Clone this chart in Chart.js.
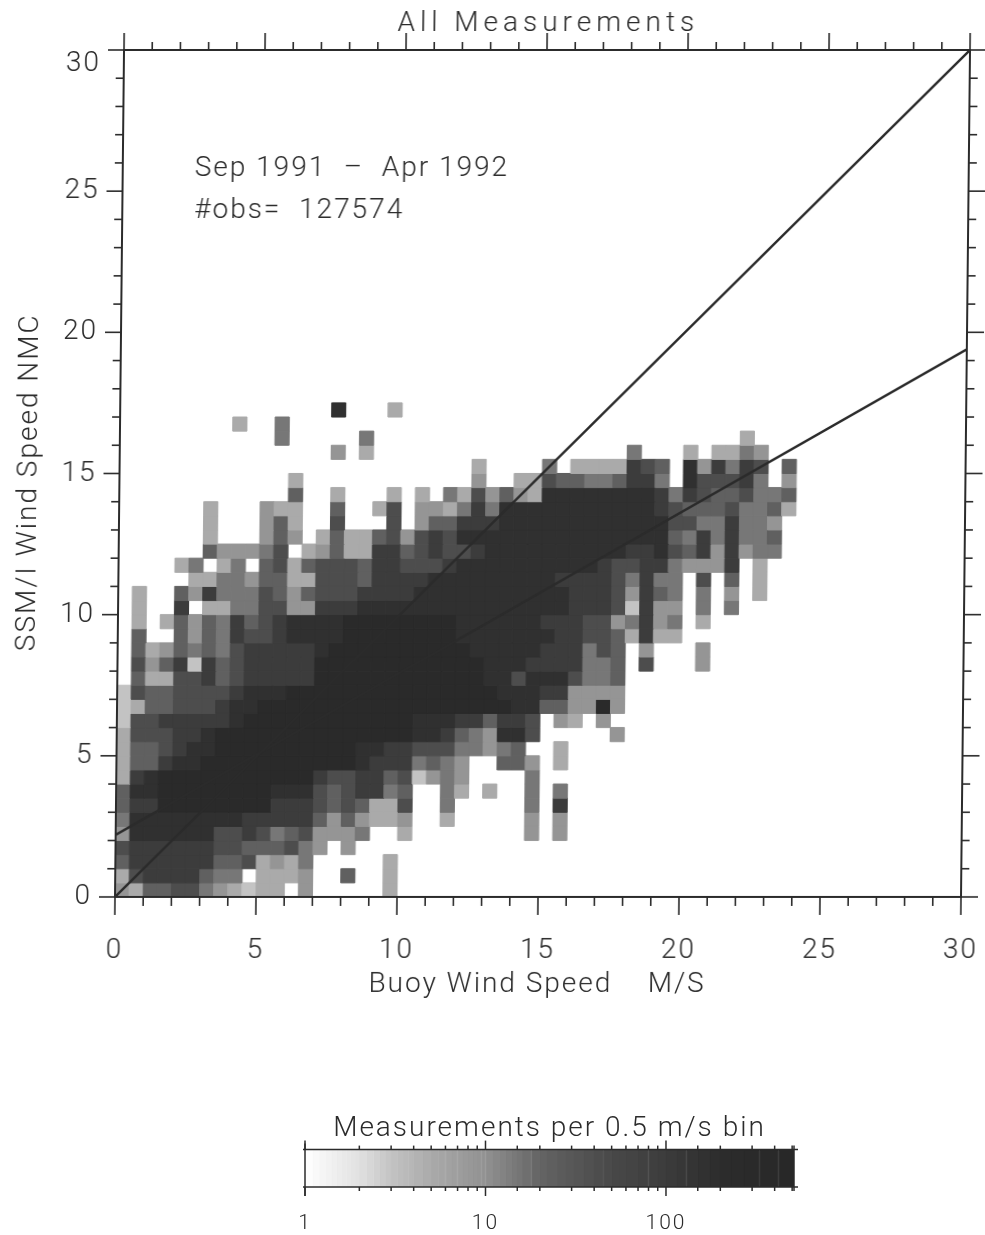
<!DOCTYPE html>
<html>
<head>
<meta charset="utf-8">
<title>All Measurements</title>
<script src="https://cdn.jsdelivr.net/npm/chart.js@4/dist/chart.umd.js"></script>
<style>
  html, body { margin: 0; background: #fff; }
  #page { position: relative; width: 985px; height: 1235px; overflow: hidden; }
  canvas { position: absolute; left: 0; }
  /* the scanned page is sheared: top of the frame sits 9px right of the bottom */
  #heatChart { top: 0; transform: skewX(-0.61deg); transform-origin: 0 897px; }
  #barChart { top: 1105px; }
</style>
</head>
<body>
<div id="page">
  <canvas id="heatChart" width="985" height="1010"></canvas>
  <canvas id="barChart" width="985" height="130"></canvas>
</div>
<script>
// Count class of every 0.5 m/s bin, one list per SSM/I bin (bottom row first)
const binRows = [
  [3,2,5,5,6,6,4,3,2,1,2,2,0,3,0,0,0,0,0,2],
  [2,6,7,7,7,7,5,4,4,0,2,2,2,3,0,0,5,0,0,2],
  [5,7,7,7,7,7,7,5,5,6,2,3,2,4,0,0,0,0,0,2],
  [6,7,7,7,7,7,7,6,6,5,5,5,6,4,3,0,3],
  [3,8,8,8,8,8,8,6,6,7,6,4,5,6,3,3,3,4,0,0,2,0,0,0,0,0,0,0,0,3,0,3],
  [4,8,8,8,8,8,8,8,8,7,7,7,7,7,5,3,5,3,2,2,3,0,0,2,0,0,0,0,0,3,0,3],
  [5,7,7,9,9,9,9,9,9,9,9,7,7,7,6,5,6,5,2,2,6,0,0,4,0,0,0,0,0,4,0,7],
  [5,8,8,9,9,9,9,9,9,9,9,8,8,8,6,5,6,7,7,4,5,0,0,4,2,0,2,0,0,4,0,4],
  [2,7,8,9,9,9,9,9,9,9,9,9,9,9,7,6,6,7,7,5,6,1,3,4,3,0,0,0,0,4],
  [2,5,5,7,8,8,9,9,9,9,9,9,9,9,9,9,9,8,7,7,7,4,5,4,3,0,0,5,5,3,0,2],
  [2,5,5,6,7,8,8,9,9,9,9,9,9,9,9,9,9,8,8,7,7,6,6,6,4,4,3,4,5,0,0,2],
  [2,6,6,6,7,7,8,9,9,9,9,9,9,9,9,9,9,9,9,9,9,8,8,7,5,4,3,8,8,6,0,0,0,0,0,3],
  [1,6,6,7,7,7,7,7,8,9,9,9,9,9,9,9,9,9,9,9,9,8,8,8,7,7,5,7,7,6,0,3,2,0,3],
  [1,2,5,5,6,6,6,7,8,8,9,9,9,9,9,9,9,9,9,9,9,9,9,9,9,9,9,9,8,8,5,5,3,3,9,3],
  [1,6,5,5,6,6,6,6,7,8,8,8,9,9,9,9,9,9,9,9,9,9,9,9,9,9,9,8,8,8,7,7,3,3,3,3],
  [0,5,2,2,6,6,7,5,6,7,7,7,7,7,9,9,9,9,9,9,9,9,9,9,9,9,8,8,6,8,8,8,6,4,4,5],
  [0,6,3,5,7,1,7,5,6,7,7,7,7,7,9,9,9,9,9,9,9,9,9,9,9,9,8,8,8,7,7,7,7,4,4,5,0,6,0,0,0,3],
  [0,5,2,3,5,4,5,4,6,7,7,7,7,7,8,9,9,9,9,9,9,9,9,9,9,8,8,8,8,8,7,7,7,4,6,5,0,3,0,0,0,3],
  [0,5,0,0,5,3,5,4,7,6,6,7,8,8,8,8,9,9,9,9,9,9,9,9,8,8,8,8,8,8,8,7,7,6,6,5,2,7,2,2],
  [0,2,0,2,5,3,5,4,7,5,6,7,8,8,8,8,9,9,9,9,9,9,9,9,8,8,8,8,8,8,7,7,7,6,6,3,4,7,3,4,0,2],
  [0,2,0,0,7,0,2,2,4,4,6,6,3,3,7,7,7,8,8,8,8,8,8,8,8,8,8,8,8,8,8,8,7,7,7,6,1,7,3,3,0,4,0,4],
  [0,2,0,0,5,3,7,4,4,4,6,5,3,5,6,6,6,7,7,7,7,8,8,8,8,8,8,8,8,8,8,8,7,7,7,6,3,7,5,4,0,4,0,3,0,2],
  [0,0,0,0,0,2,2,4,4,3,5,5,2,2,6,6,6,5,7,7,7,7,8,8,8,8,8,8,8,8,8,7,7,7,7,6,4,7,4,4,0,6,0,5,0,2],
  [0,0,0,0,2,4,0,2,4,0,5,6,2,5,6,6,6,5,7,7,6,6,6,7,8,8,8,8,8,8,8,8,8,8,7,6,6,7,7,4,3,3,3,7,0,2],
  [0,0,0,0,0,0,5,3,3,3,4,6,0,2,3,5,2,2,7,7,5,6,7,6,6,7,8,8,8,8,8,8,8,8,8,8,7,7,8,6,5,7,3,7,3,4,4],
  [0,0,0,0,0,0,2,0,0,0,3,5,3,0,2,5,2,2,5,6,3,6,7,6,8,8,8,8,8,8,8,8,8,8,8,8,8,8,8,5,4,7,4,7,4,4,5],
  [0,0,0,0,0,0,2,0,0,0,3,5,2,0,0,6,0,0,0,6,0,3,5,5,7,7,7,8,8,8,8,8,8,8,8,8,8,8,8,6,6,4,4,7,4,4,3],
  [0,0,0,0,0,0,2,0,0,0,3,2,2,0,0,5,0,0,2,6,0,3,3,2,4,7,4,8,8,8,8,8,8,8,8,8,8,8,7,6,5,5,5,6,4,4,5,2],
  [0,0,0,0,0,0,0,0,0,0,0,0,5,0,0,2,0,0,0,2,0,2,0,4,2,6,3,5,3,2,8,8,8,8,8,8,8,8,7,4,7,6,5,5,6,4,4,5],
  [0,0,0,0,0,0,0,0,0,0,0,0,2,0,0,0,0,0,0,0,0,0,0,0,0,3,0,0,2,2,6,5,5,4,4,5,7,7,4,0,8,6,6,6,7,4,0,3],
  [0,0,0,0,0,0,0,0,0,0,0,0,0,0,0,0,0,0,0,0,0,0,0,0,0,2,0,0,0,0,4,0,2,2,2,2,7,6,5,0,8,3,7,4,7,6,0,5],
  [0,0,0,0,0,0,0,0,0,0,0,0,0,0,0,3,0,2,0,0,0,0,0,0,0,0,0,0,0,0,0,0,0,0,0,0,4,0,0,0,2,0,2,2,4,3],
  [0,0,0,0,0,0,0,0,0,0,0,4,0,0,0,0,0,4,0,0,0,0,0,0,0,0,0,0,0,0,0,0,0,0,0,0,0,0,0,0,0,0,0,0,2],
  [0,0,0,0,0,0,0,0,2,0,0,4],
  [0,0,0,0,0,0,0,0,0,0,0,0,0,0,0,8,0,0,0,2],
];
// measurements per bin for each count class
const classCounts = [0, 3, 5, 9, 15, 23, 43, 100, 170, 300];

const barCounts = [1, 2, 3, 5, 10, 20, 50, 100, 200, 500];
const barGreys = [255, 225, 195, 170, 145, 100, 72, 60, 44, 40];
const barEdges = [1, 1.1, 1.2, 1.3, 1.4, 1.5, 1.6, 1.7, 1.8, 1.9, 2, 2.2, 2.4, 2.6, 2.8, 3, 3.25, 3.5, 3.75, 4, 4.5, 5, 5.5, 6, 6.5, 7, 7.5, 8, 8.5, 9, 9.5, 10, 11, 12, 13, 14, 15, 16, 18, 20, 22, 25, 28, 31, 35, 40, 45, 50, 55, 60, 70, 80, 90, 100, 115, 130, 150, 175, 200, 230, 270, 330, 420, 512];

// the two lines
const oneToOneX = [0, 30];
const oneToOneY = [0, 30];
const fitX = [0, 30];
const fitY = [2.2, 19.4];

const xMajorLabels = [0, 5, 10, 15, 20, 25, 30];
const chartTitle = "All Measurements";
const notes = ["Sep 1991  \u2013  Apr 1992", "#obs=  127574"];
const noteX = [2.55, 2.55];
const noteY = [25.8, 24.3];

const binSize = 0.5;
const ink = "#2b2b2b";
const textFont = "Roboto";

function greyFor(count) {
  let i = 0;
  while (i < barCounts.length - 2 && count > barCounts[i + 1]) i++;
  const t = (Math.log(count) - Math.log(barCounts[i])) / (Math.log(barCounts[i + 1]) - Math.log(barCounts[i]));
  const g = Math.round(barGreys[i] + Math.min(t, 1) * (barGreys[i + 1] - barGreys[i]));
  return "rgb(" + g + "," + g + "," + g + ")";
}

const heatPoints = [];
binRows.forEach((row, j) => {
  row.forEach((cls, i) => {
    if (cls > 0) heatPoints.push({ x: (i + 0.5) * binSize, y: (j + 0.5) * binSize, count: classCounts[cls] });
  });
});

function tickLine(ctx, x1, y1, x2, y2) {
  ctx.beginPath();
  ctx.moveTo(x1, y1);
  ctx.lineTo(x2, y2);
  ctx.stroke();
}

// axes of the original have ticks on all four sides, long ones every 5 m/s
const frameTicks = {
  id: "frameTicks",
  afterDraw(chart) {
    const { ctx, chartArea: a, scales } = chart;
    ctx.save();
    ctx.strokeStyle = ink;
    ctx.lineWidth = 2;
    ctx.strokeRect(a.left, a.top, a.right - a.left, a.bottom - a.top);
    ctx.lineWidth = 1.6;
    scales.x.ticks.forEach(t => {
      const px = scales.x.getPixelForValue(t.value);
      const long = t.value % 5 === 0;
      tickLine(ctx, px, a.bottom, px, a.bottom + (long ? 18 : 9));
      tickLine(ctx, px, a.top, px, a.top - (long ? 17 : 8));
    });
    scales.y.ticks.forEach(t => {
      const py = scales.y.getPixelForValue(t.value);
      const long = t.value % 5 === 0;
      tickLine(ctx, a.left, py, a.left - (long ? 16 : 8), py);
      tickLine(ctx, a.right, py, a.right + (long ? 17 : 8), py);
    });
    ctx.fillStyle = ink;
    ctx.font = "300 28px " + textFont;
    ctx.letterSpacing = "2px";
    ctx.textBaseline = "middle";
    notes.forEach((line, i) => {
      ctx.fillText(line, scales.x.getPixelForValue(noteX[i]), scales.y.getPixelForValue(noteY[i]));
    });
    ctx.textAlign = "center";
    ctx.letterSpacing = "5px";
    ctx.fillText(chartTitle, (a.left + a.right) / 2 + 1, 24);
    ctx.restore();
  },
};

const spacedText = {
  id: "spacedText",
  beforeDraw(chart) { chart.ctx.letterSpacing = "2px"; },
};

new Chart(document.getElementById("heatChart"), {
  type: "scatter",
  plugins: [spacedText, frameTicks],
  data: {
    datasets: [
      {
        label: "Bins",
        data: heatPoints,
        order: 2,
        pointStyle: "rect",
        pointRadius: 10,
        pointHoverRadius: 10,
        pointBorderWidth: 1,
        pointBackgroundColor: c => greyFor(c.raw.count),
        pointBorderColor: c => greyFor(c.raw.count),
      },
      {
        label: "1:1",
        data: oneToOneX.map((x, i) => ({ x: x, y: oneToOneY[i] })),
        order: 1,
        showLine: true,
        pointRadius: 0,
        borderColor: ink,
        borderWidth: 2.4,
      },
      {
        label: "Fit",
        data: fitX.map((x, i) => ({ x: x, y: fitY[i] })),
        order: 1,
        showLine: true,
        pointRadius: 0,
        borderColor: ink,
        borderWidth: 2.4,
      },
    ],
  },
  options: {
    responsive: false,
    animation: false,
    layout: { padding: { left: 0, right: 24, top: 50, bottom: 0 } },
    plugins: {
      legend: { display: false },
      tooltip: { enabled: false },
    },
    scales: {
      x: {
        type: "linear",
        min: 0,
        max: 30,
        afterFit(scale) { scale.height = 113; scale.paddingLeft = 0; scale.paddingRight = 0; },
        grid: { display: false, drawTicks: false },
        border: { display: false },
        ticks: {
          stepSize: 1,
          autoSkip: false,
          maxRotation: 0,
          padding: 37,
          color: ink,
          font: { family: textFont, size: 28, weight: "300" },
          callback: v => (xMajorLabels.includes(v) ? v : ""),
        },
        title: {
          display: true,
          text: "Buoy Wind Speed    M/S",
          color: ink,
          font: { family: textFont, size: 28, weight: "300" },
          padding: { top: 0, bottom: 8 },
        },
      },
      y: {
        type: "linear",
        min: 0,
        max: 30,
        afterFit(scale) { scale.width = 115; scale.paddingTop = 0; scale.paddingBottom = 0; },
        grid: { display: false, drawTicks: false },
        border: { display: false },
        ticks: {
          stepSize: 1,
          autoSkip: false,
          padding: 23,
          color: ink,
          font: { family: textFont, size: 28, weight: "300", lineHeight: 1 },
          callback: v => (v === 30 ? ["", "30"] : v % 5 === 0 ? v : ""),
        },
        title: {
          display: true,
          text: "SSM/I Wind Speed NMC  ",
          color: ink,
          font: { family: textFont, size: 28, weight: "300" },
          padding: { top: 8, bottom: 0 },
        },
      },
    },
  },
});

// Colour bar, log scale of counts
const barTicks = {
  id: "barTicks",
  afterDraw(chart) {
    const { ctx, chartArea: a, scales } = chart;
    ctx.save();
    ctx.strokeStyle = ink;
    ctx.lineWidth = 1.5;
    tickLine(ctx, a.left - 2, a.top, a.right + 4, a.top);
    tickLine(ctx, a.left - 2, a.bottom, a.right + 4, a.bottom);
    tickLine(ctx, a.left, a.top - 6, a.left, a.bottom + 9);
    tickLine(ctx, a.right, a.top, a.right, a.bottom);
    scales.x.ticks.forEach(t => {
      const px = scales.x.getPixelForValue(t.value);
      const long = [1, 10, 100].includes(t.value);
      tickLine(ctx, px, a.top, px, a.top - (long ? 9 : 4));
      tickLine(ctx, px, a.bottom, px, a.bottom + (long ? 9 : 4));
    });
    ctx.restore();
  },
};

new Chart(document.getElementById("barChart"), {
  type: "bar",
  plugins: [spacedText, barTicks],
  data: {
    labels: ["counts"],
    datasets: barEdges.slice(1).map((hi, i) => ({
      label: "step",
      data: [[barEdges[i], hi]],
      backgroundColor: greyFor(Math.sqrt(barEdges[i] * hi)),
      borderColor: greyFor(Math.sqrt(barEdges[i] * hi)),
      borderWidth: 1,
      borderSkipped: false,
      grouped: false,
      barPercentage: 1,
      categoryPercentage: 1,
    })),
  },
  options: {
    responsive: false,
    animation: false,
    indexAxis: "y",
    layout: { padding: { left: 305, right: 191 } },
    plugins: {
      legend: { display: false },
      tooltip: { enabled: false },
      title: {
        display: true,
        text: "Measurements per 0.5 m/s bin",
        color: ink,
        font: { family: textFont, size: 28, weight: "300", lineHeight: 1.2 },
        padding: { top: 7, bottom: 4 },
      },
    },
    scales: {
      x: {
        type: "logarithmic",
        min: 1,
        max: 512,
        afterFit(scale) { scale.height = 48; scale.paddingLeft = 0; scale.paddingRight = 0; },
        grid: { display: false, drawTicks: false },
        border: { display: false },
        ticks: {
          autoSkip: false,
          maxRotation: 0,
          padding: 24,
          color: ink,
          font: { family: textFont, size: 21, weight: "300" },
          callback: v => ([1, 10, 100].includes(v) ? v : ""),
        },
      },
      y: {
        display: false,
      },
    },
  },
});
</script>
</body>
</html>
